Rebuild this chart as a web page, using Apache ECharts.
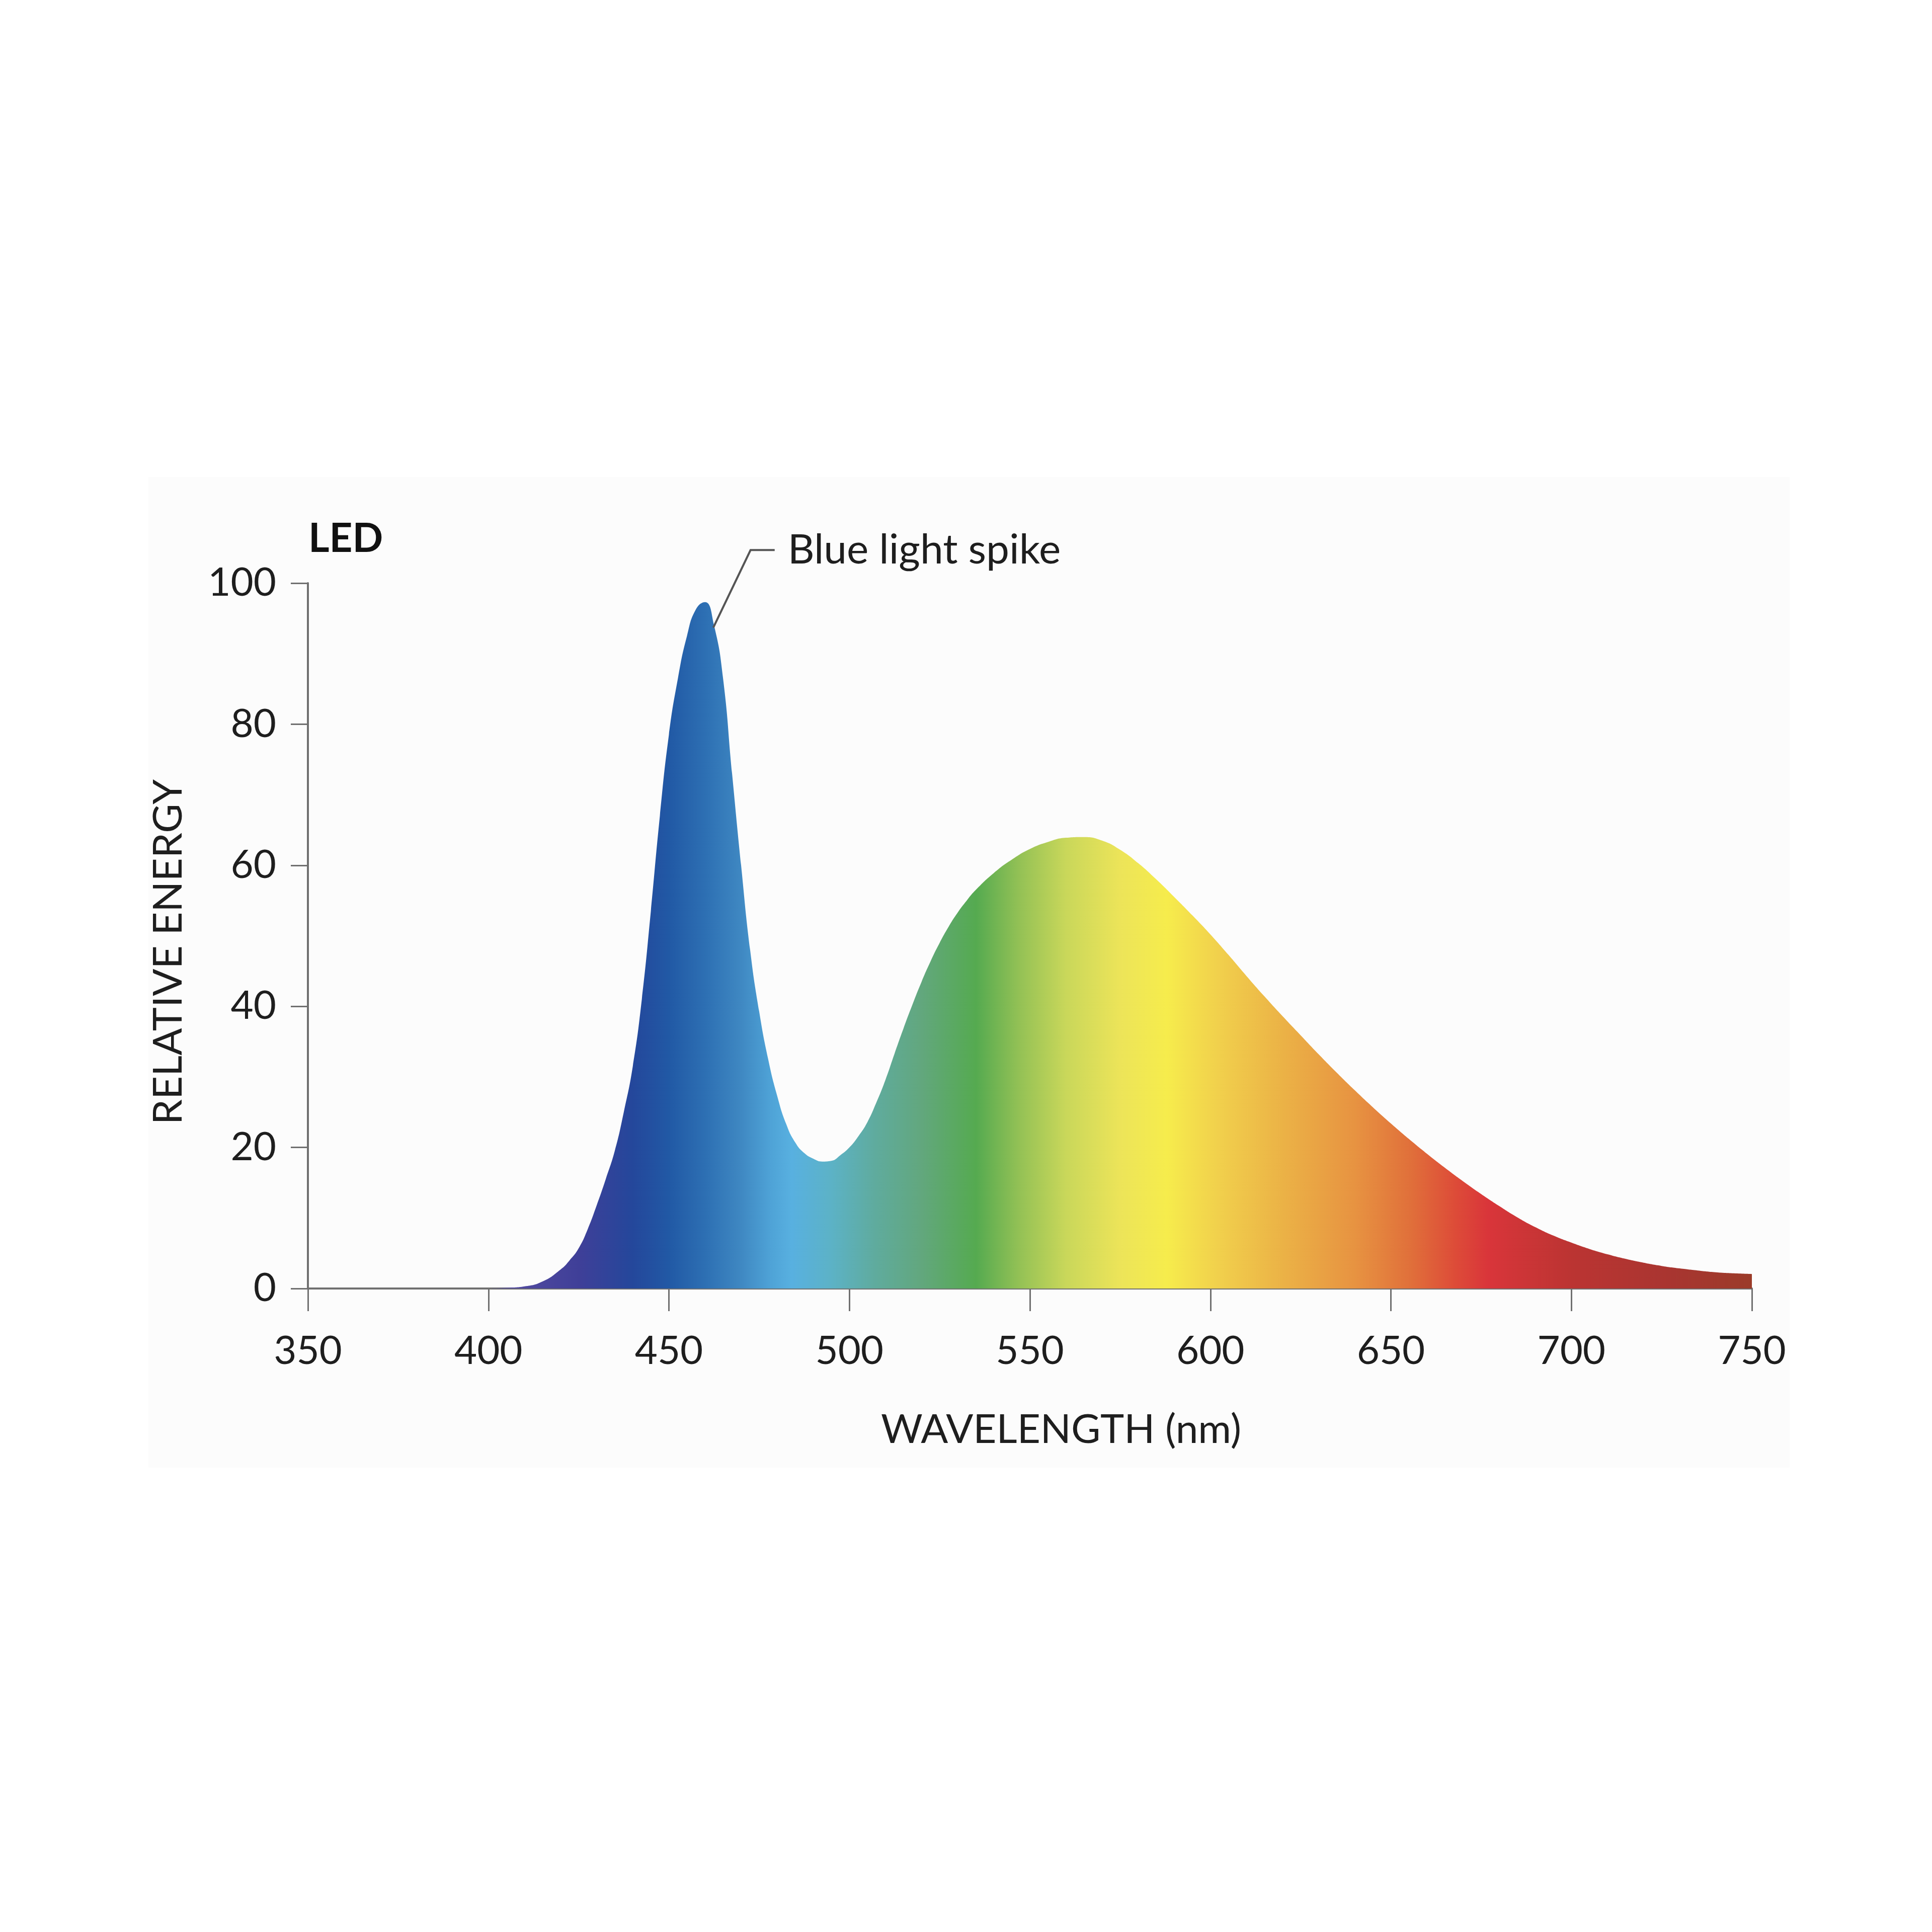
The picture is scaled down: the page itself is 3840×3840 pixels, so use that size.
<!DOCTYPE html>
<html>
<head>
<meta charset="utf-8">
<script src="https://cdn.jsdelivr.net/npm/echarts@6/dist/echarts.min.js"></script>
<style>
html,body{margin:0;padding:0;background:#ffffff;}
#chart{width:3840px;height:3840px;}
</style>
</head>
<body>
<div id="chart"></div>
<script>
// ---- Data ----
const wavelengths = [350,360,370,380,390,400,405,410,415,420,422.5,425,427.5,430,432.5,
  435,437.5,440,442.5,445,447.5,450,452.5,455,457.5,460,462.5,465,467.5,470,472.5,475,477.5,
  480,482.5,485,487.5,490,492.5,495,497.5,500,502.5,505,507.5,510,512.5,515,517.5,520,522.5,525,527.5,530,532.5,
  535,540,545,550,555,560,565,570,575,580,585,590,595,
  600,605,610,615,620,625,630,635,640,645,650,655,660,665,670,675,680,685,690,695,
  700,705,710,715,720,725,730,735,740,745,750];
const energy = [0,0,0,0,0,0,0.1,0.3,1.0,2.7,4.0,5.7,8.4,11.8,15.5,
  19.5,25,31.5,41,53.5,67,78.5,86.5,92.5,96.3,97.3,94,86.5,73,60,48,39.3,32.5,
  27.3,23.3,20.7,19.2,18.4,18.0,18.1,18.9,20.0,21.6,23.6,26.4,29.6,33.3,36.9,40.3,43.5,46.4,49.0,51.3,53.3,55.0,
  56.5,58.9,60.8,62.3,63.3,63.9,64.0,63.5,62.2,60.3,58.0,55.5,52.9,
  50.2,47.3,44.3,41.4,38.6,35.9,33.2,30.6,28.1,25.7,23.4,21.2,19.1,17.1,15.2,13.4,11.7,10.1,8.7,7.5,
  6.5,5.6,4.85,4.2,3.65,3.2,2.85,2.55,2.3,2.15,2.05];
const xTicks = [350,400,450,500,550,600,650,700,750];
const yTicks = [0,20,40,60,80,100];
const chartTitle = 'LED';
const xAxisName = 'WAVELENGTH (nm)';
const yAxisName = 'RELATIVE ENERGY';
const spikeLabel = 'Blue light spike';
const spikeAnchor = [462.3, 93.7];

// ---- Spectrum colours (style) ----
const spectrumStops = [
  [400,'#5a4fa3'],[425,'#3f3f98'],[440,'#24479b'],[450,'#2159a5'],[460,'#2d6fb3'],
  [470,'#3f88c2'],[478,'#4ea2d6'],[484,'#58b0e0'],[495,'#5cb2c6'],[507,'#5fab9e'],
  [520,'#62a77d'],[535,'#55aa50'],[547,'#93c155'],[560,'#c9d75a'],[575,'#ece459'],
  [588,'#f6ec4c'],[602,'#f1d04c'],[620,'#ebb246'],[640,'#e79341'],[656,'#e06e3a'],
  [668,'#dd4b38'],[677,'#d9353a'],[700,'#bb3432'],[728,'#a83530'],[750,'#9b3b29']
];

const xMin = 350, xMax = 750;
const chart = echarts.init(document.getElementById('chart'), null, {renderer:'canvas'});
const FONT = 'Lato';
const TXT = '#1e1e1e';
const gradient = new echarts.graphic.LinearGradient(0,0,1,0,
  spectrumStops.map(s => ({offset:(s[0]-xMin)/(xMax-xMin), color:s[1]})));

chart.setOption({
  backgroundColor:'#ffffff',
  animation:false,
  grid:{left:612,right:358,top:1159,bottom:1279,containLabel:false},
  xAxis:{
    type:'value', min:xMin, max:xMax, interval:50,
    axisLine:{show:true, onZero:false, lineStyle:{color:'#707070', width:4}},
    axisTick:{show:true, length:45, lineStyle:{color:'#707070', width:3}},
    axisLabel:{margin:86, fontSize:78, fontFamily:FONT, color:TXT,
      formatter:v => xTicks.includes(v) ? String(v) : ''},
    splitLine:{show:false}
  },
  yAxis:{
    type:'value', min:0, max:100, interval:20,
    axisLine:{show:true, lineStyle:{color:'#707070', width:4}},
    axisTick:{show:true, length:34, lineStyle:{color:'#707070', width:3}},
    axisLabel:{margin:63, fontSize:78, fontFamily:FONT, color:TXT,
      formatter:v => yTicks.includes(v) ? String(v) : ''},
    splitLine:{show:false}
  },
  series:[{
    type:'line',
    data:wavelengths.map((w,i)=>[w, energy[i]]),
    smooth:0.5,
    symbol:'none',
    lineStyle:{width:0, opacity:0},
    areaStyle:{color:gradient, opacity:1},
    z:1
  }]
});

// Annotation anchored on the spike through the axes
const a = chart.convertToPixel({gridIndex:0}, spikeAnchor);
chart.setOption({graphic:[
  {id:'bg', type:'rect', z:-10, silent:true, shape:{x:295,y:948,width:3262,height:1969},
    style:{fill:'#fcfcfc', stroke:null}},
  {id:'title', type:'text', x:613, y:1071,
    style:{text:chartTitle, font:'bold 80px '+FONT, fill:'#111111', textAlign:'left', textVerticalAlign:'middle'}},
  {id:'yname', type:'text', x:335, y:1892, rotation:Math.PI/2,
    style:{text:yAxisName, font:'80px '+FONT, fill:TXT, textAlign:'center', textVerticalAlign:'middle'}},
  {id:'xname', type:'text', x:2109, y:2842,
    style:{text:xAxisName, font:'80px '+FONT, fill:TXT, textAlign:'center', textVerticalAlign:'middle'}},
  {id:'leader', type:'polyline', z:10,
    shape:{points:[[a[0],a[1]],[a[0]+74,a[1]-154],[a[0]+122,a[1]-154]]},
    style:{stroke:'#555555', lineWidth:4, fill:null}},
  {id:'spike', type:'text', z:10, x:a[0]+148, y:a[1]-154,
    style:{text:spikeLabel, font:'82px '+FONT, fill:TXT, textAlign:'left', textVerticalAlign:'middle'}}
]});
</script>
</body>
</html>
